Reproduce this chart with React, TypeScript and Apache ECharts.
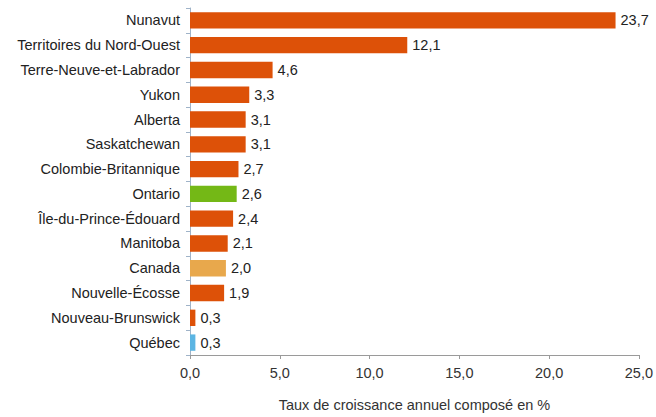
import React, { useEffect, useRef } from "react";
import * as echarts from "echarts";

const categories = [
  "Nunavut",
  "Territoires du Nord-Ouest",
  "Terre-Neuve-et-Labrador",
  "Yukon",
  "Alberta",
  "Saskatchewan",
  "Colombie-Britannique",
  "Ontario",
  "Île-du-Prince-Édouard",
  "Manitoba",
  "Canada",
  "Nouvelle-Écosse",
  "Nouveau-Brunswick",
  "Québec",
];
const values = [23.7, 12.1, 4.6, 3.3, 3.1, 3.1, 2.7, 2.6, 2.4, 2.1, 2.0, 1.9, 0.3, 0.3];
const barColors = [
  "#DD5108", "#DD5108", "#DD5108", "#DD5108", "#DD5108", "#DD5108", "#DD5108",
  "#74B816", "#DD5108", "#DD5108", "#E8A84C", "#DD5108", "#DD5108", "#5BB5E3",
];
const xTicks = [0, 5, 10, 15, 20, 25];
const axisTitle = "Taux de croissance annuel composé en %";

const fmt = (v: number) => v.toFixed(1).replace(".", ",");

export default function App() {
  const ref = useRef<HTMLDivElement>(null);
  useEffect(() => {
    if (!ref.current) return;
    const chart = echarts.init(ref.current, undefined, { renderer: "svg" });
    chart.setOption({
      animation: false,
      backgroundColor: "#ffffff",
      textStyle: { fontFamily: "Liberation Sans, Arial, sans-serif" },
      grid: { left: 190, right: 15, top: 8, bottom: 50, containLabel: false },
      xAxis: {
        type: "value",
        min: xTicks[0],
        max: xTicks[xTicks.length - 1],
        interval: 5,
        name: axisTitle,
        nameLocation: "middle",
        nameGap: 42,
        nameTextStyle: { color: "#333", fontSize: 14.5 },
        axisLine: { show: true, lineStyle: { color: "#9a9a9a" } },
        axisTick: { show: true, length: 4, lineStyle: { color: "#9a9a9a" } },
        axisLabel: { color: "#333", fontSize: 14.5, margin: 10, formatter: (v: number) => fmt(v) },
        splitLine: { show: false },
      },
      yAxis: {
        type: "category",
        inverse: true,
        data: categories,
        axisLine: { show: true, lineStyle: { color: "#9fb3c8" } },
        axisTick: { show: true, length: 4, lineStyle: { color: "#9fb3c8" } },
        axisLabel: { color: "#222", fontSize: 14.5, margin: 10 },
      },
      series: [
        {
          type: "bar",
          data: values.map((v, i) => ({ value: v, itemStyle: { color: barColors[i] } })),
          barCategoryGap: "34%",
          label: {
            show: true,
            position: "right",
            distance: 5,
            color: "#222",
            fontSize: 14.5,
            formatter: (p: any) => fmt(p.value),
          },
        },
      ],
    });
    return () => chart.dispose();
  }, []);
  return (
    <div
      ref={ref}
      style={{ position: "fixed", left: 0, top: 0, width: 656, height: 417 }}
    />
  );
}
